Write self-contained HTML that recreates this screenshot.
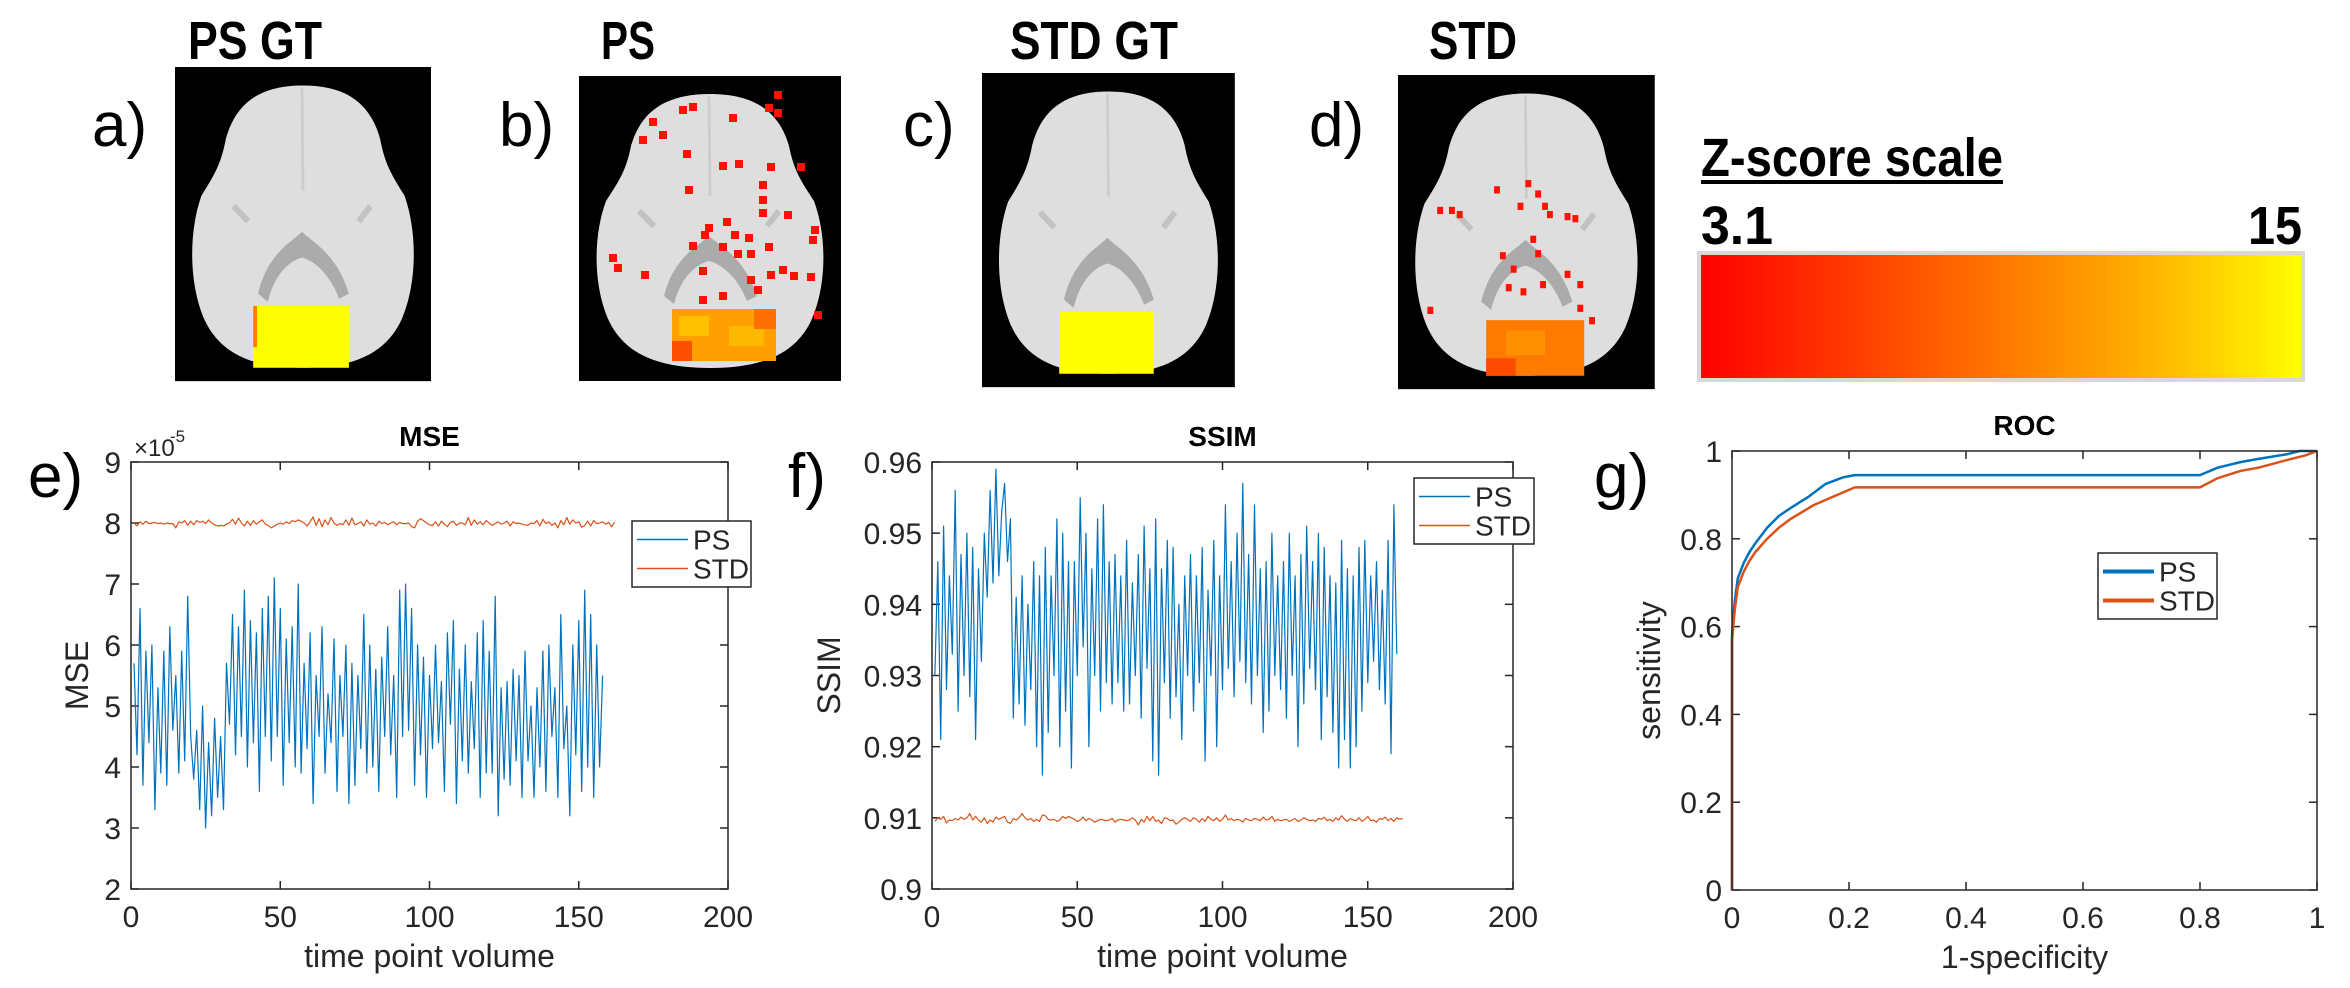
<!DOCTYPE html>
<html><head><meta charset="utf-8"><style>
html,body{margin:0;padding:0;background:#fff;}
svg{display:block;}
text{font-family:"Liberation Sans Narrow","Liberation Sans",sans-serif;}
.lbl{font-family:"Liberation Sans Narrow","Liberation Sans",sans-serif;font-size:62px;fill:#000;}
.hdr{font-family:"Liberation Sans Narrow","Liberation Sans",sans-serif;font-weight:bold;font-size:54px;fill:#000;}
.tick{font-size:30px;fill:#262626;}
.ttl{font-size:28px;font-weight:bold;fill:#000;font-family:"Liberation Sans",sans-serif;}
</style></head><body>
<svg id="fig" width="2350" height="988" viewBox="0 0 2350 988" xmlns="http://www.w3.org/2000/svg">
<defs>
<linearGradient id="zgrad" x1="0" x2="1" y1="0" y2="0">
<stop offset="0" stop-color="#ff0000"/><stop offset="0.25" stop-color="#ff3a00"/><stop offset="0.5" stop-color="#ff7800"/><stop offset="0.75" stop-color="#ffb400"/><stop offset="1" stop-color="#ffff00"/>
</linearGradient>
<g id="brain">
<rect x="0" y="0" width="262" height="305" fill="#000"/>
<path d="M131,18 C175,18 200,35 210,70 C215,95 222,105 235,125 C248,160 248,210 232,245 C215,280 180,292 131,292 C82,292 47,280 30,245 C14,210 14,160 27,125 C40,105 47,95 52,70 C62,35 87,18 131,18 Z" fill="#dedede"/>
<path d="M130,20 L131,120" stroke="#cdcdcd" stroke-width="3"/>
<path d="M85,220 C95,180 120,170 130,160 C140,170 165,180 178,220 L168,225 C158,200 142,188 130,185 C118,188 102,200 95,228 Z" fill="#ababab"/>
<path d="M60,135 L75,150 M200,135 L188,150" stroke="#c2c2c2" stroke-width="6"/>
</g>
</defs>

<text class="lbl" x="92" y="146">a)</text>
<text class="lbl" x="499" y="146">b)</text>
<text class="lbl" x="903" y="146">c)</text>
<text class="lbl" x="1309" y="146">d)</text>
<text class="hdr" x="188" y="59" textLength="134" lengthAdjust="spacingAndGlyphs">PS GT</text>
<text class="hdr" x="601" y="59" textLength="54" lengthAdjust="spacingAndGlyphs">PS</text>
<text class="hdr" x="1010" y="59" textLength="168" lengthAdjust="spacingAndGlyphs">STD GT</text>
<text class="hdr" x="1429" y="59" textLength="88" lengthAdjust="spacingAndGlyphs">STD</text>

<g transform="translate(175,67) scale(0.977,1.03)">
<use href="#brain"/>
<rect x="80" y="232" width="98" height="60" fill="#ffff00"/>
<rect x="80" y="232" width="4" height="40" fill="#ff8000"/>
</g>
<g id="bb" transform="translate(579,76) scale(1,1.0)">
<use href="#brain"/>
<rect x="93" y="233" width="104" height="52" fill="#ffa000"/>
<rect x="100" y="240" width="30" height="20" fill="#ffc000"/>
<rect x="150" y="250" width="35" height="20" fill="#ffb800"/>
<rect x="93" y="265" width="20" height="20" fill="#ff5000"/>
<rect x="175" y="233" width="22" height="20" fill="#ff7000"/>
</g>
<g transform="translate(982,73) scale(0.965,1.03)">
<use href="#brain"/>
<rect x="80" y="232" width="98" height="60" fill="#ffff00"/>
</g>
<g id="bd" transform="translate(1398,75) scale(0.98,1.03)">
<use href="#brain"/>
<rect x="90" y="238" width="100" height="54" fill="#ff7a00"/>
<rect x="110" y="248" width="40" height="24" fill="#ff9000"/>
<rect x="90" y="275" width="30" height="17" fill="#ff4a00"/>
</g>

<text class="hdr" x="1701" y="176" textLength="302" lengthAdjust="spacingAndGlyphs">Z-score scale</text>
<rect x="1701" y="180" width="302" height="4" fill="#000"/>
<text class="hdr" x="1701" y="244" textLength="72" lengthAdjust="spacingAndGlyphs">3.1</text>
<text class="hdr" x="2248" y="244" textLength="54" lengthAdjust="spacingAndGlyphs">15</text>
<rect x="1699" y="253" width="604" height="127" fill="url(#zgrad)" stroke="#d8d8d8" stroke-width="4"/>

<text class="lbl" x="28" y="497">e)</text>
<text class="lbl" x="788" y="497">f)</text>
<text class="lbl" x="1594" y="497">g)</text>
<g id="plots"></g>
</svg>
<script>
const mseTicksX=[0,50,100,150,200];
const mseTicksY=[2,3,4,5,6,7,8,9];
const msePS=[5.7,4.2,6.6,3.7,5.9,4.4,6.0,3.3,5.3,3.9,5.9,3.7,6.3,4.6,5.5,3.9,5.9,4.1,6.8,4.5,3.8,4.6,3.3,5.0,3.0,4.4,3.2,4.8,3.5,4.5,3.3,5.7,4.7,6.5,4.2,6.3,4.5,6.9,4.0,6.4,4.4,6.2,3.6,6.6,4.5,6.8,4.1,7.1,4.5,6.6,3.7,6.1,4.4,6.3,4.0,7.0,3.9,5.7,4.3,6.2,3.4,5.5,4.5,6.3,3.9,5.2,4.4,6.1,3.6,5.5,4.5,6.0,3.4,5.7,3.7,5.5,4.3,6.5,3.9,6.0,4.0,5.6,3.6,5.8,4.5,6.3,4.2,5.5,3.5,6.9,4.5,7.0,4.6,6.6,3.7,6.0,4.2,5.8,3.5,5.5,4.3,6.0,4.4,5.4,3.6,6.2,4.7,6.4,3.4,5.6,4.1,6.0,3.9,5.4,4.3,6.2,3.5,6.4,3.9,5.9,3.9,6.8,3.2,5.3,3.8,5.4,3.7,5.6,4.1,5.5,3.5,5.9,4.1,5.0,3.5,5.3,4.0,5.9,3.6,6.0,4.5,5.3,3.5,6.5,4.3,5.0,3.2,6.0,4.2,6.4,3.6,6.9,4.0,6.5,3.5,6.0,4.0,5.5];
const mseSTD=[8.00,7.95,8.02,7.98,8.03,7.99,8.00,8.01,7.99,8.00,7.98,8.00,7.99,7.99,7.92,8.02,8.00,8.04,7.96,8.03,7.97,8.04,8.01,8.03,7.99,8.05,8.00,7.97,7.95,7.96,7.95,7.98,8.00,8.06,7.98,8.08,8.00,7.95,8.03,7.96,8.04,7.98,8.02,8.05,7.98,7.96,7.92,7.95,7.98,8.00,7.98,8.02,7.99,8.04,8.02,8.05,8.03,8.00,7.95,8.02,8.10,7.96,8.07,7.94,8.05,7.97,8.09,8.00,7.96,7.99,7.97,8.05,7.96,8.08,7.97,7.99,8.02,7.95,8.05,7.98,8.00,7.95,8.03,7.99,8.01,7.97,8.00,8.02,7.97,8.01,7.99,7.99,8.00,7.94,7.92,8.03,8.07,8.04,8.00,7.97,7.96,8.02,7.95,8.03,7.98,7.94,8.01,8.03,7.96,8.00,8.00,7.97,8.09,7.96,8.05,7.98,8.02,7.97,8.04,8.00,7.96,7.99,8.02,7.98,8.00,8.03,7.95,8.02,7.99,8.00,7.98,7.97,7.96,8.00,7.99,8.04,7.95,8.06,7.99,8.02,7.96,8.00,7.92,8.04,7.97,8.09,7.98,8.05,8.00,8.02,7.93,7.96,8.03,7.95,8.04,7.99,8.00,8.02,7.98,8.01,7.94,8.01];
const ssimTicksX=[0,50,100,150,200];
const ssimTicksY=[0.9,0.91,0.92,0.93,0.94,0.95,0.96];
const ssimPS=[0.930,0.946,0.921,0.951,0.928,0.944,0.933,0.956,0.925,0.947,0.930,0.950,0.927,0.948,0.921,0.945,0.932,0.950,0.941,0.956,0.943,0.959,0.944,0.953,0.957,0.946,0.952,0.924,0.941,0.926,0.944,0.923,0.940,0.928,0.946,0.920,0.944,0.916,0.948,0.922,0.944,0.930,0.952,0.920,0.950,0.925,0.946,0.917,0.946,0.930,0.955,0.934,0.950,0.920,0.945,0.930,0.952,0.925,0.954,0.929,0.946,0.926,0.947,0.929,0.944,0.925,0.949,0.926,0.943,0.930,0.947,0.924,0.951,0.931,0.945,0.918,0.952,0.916,0.945,0.929,0.949,0.924,0.948,0.927,0.940,0.921,0.944,0.930,0.947,0.925,0.944,0.929,0.948,0.918,0.942,0.930,0.949,0.920,0.944,0.928,0.954,0.931,0.946,0.927,0.950,0.932,0.957,0.929,0.947,0.926,0.954,0.930,0.945,0.922,0.946,0.925,0.950,0.930,0.944,0.928,0.946,0.924,0.950,0.930,0.944,0.920,0.947,0.926,0.951,0.931,0.946,0.928,0.950,0.921,0.948,0.927,0.944,0.922,0.943,0.917,0.949,0.921,0.945,0.917,0.944,0.920,0.948,0.925,0.949,0.929,0.944,0.932,0.946,0.928,0.942,0.926,0.949,0.919,0.954,0.933];
const ssimSTD=[0.9095,0.9100,0.9098,0.9102,0.9093,0.9097,0.9096,0.9099,0.9097,0.9101,0.9098,0.9100,0.9106,0.9097,0.9102,0.9097,0.9094,0.9100,0.9092,0.9097,0.9094,0.9101,0.9098,0.9100,0.9102,0.9094,0.9092,0.9099,0.9097,0.9100,0.9106,0.9100,0.9097,0.9099,0.9095,0.9098,0.9095,0.9104,0.9103,0.9098,0.9097,0.9098,0.9095,0.9097,0.9102,0.9099,0.9102,0.9100,0.9098,0.9095,0.9097,0.9101,0.9096,0.9099,0.9097,0.9094,0.9096,0.9098,0.9097,0.9096,0.9097,0.9099,0.9094,0.9097,0.9098,0.9097,0.9096,0.9097,0.9100,0.9097,0.9090,0.9098,0.9094,0.9102,0.9096,0.9102,0.9095,0.9097,0.9092,0.9100,0.9099,0.9096,0.9097,0.9091,0.9094,0.9098,0.9100,0.9098,0.9095,0.9100,0.9098,0.9094,0.9099,0.9095,0.9102,0.9098,0.9096,0.9100,0.9095,0.9098,0.9104,0.9097,0.9099,0.9096,0.9098,0.9097,0.9094,0.9099,0.9097,0.9096,0.9099,0.9098,0.9096,0.9101,0.9097,0.9098,0.9102,0.9095,0.9098,0.9096,0.9097,0.9098,0.9095,0.9097,0.9099,0.9095,0.9097,0.9100,0.9098,0.9096,0.9097,0.9095,0.9099,0.9098,0.9101,0.9096,0.9098,0.9095,0.9100,0.9097,0.9103,0.9098,0.9095,0.9099,0.9097,0.9096,0.9100,0.9095,0.9098,0.9102,0.9096,0.9097,0.9094,0.9099,0.9098,0.9101,0.9096,0.9099,0.9095,0.9100,0.9098,0.9099];
const rocTicks=[0,0.2,0.4,0.6,0.8,1];
const rocPSx=[0,0,0.002,0.005,0.01,0.02,0.03,0.04,0.06,0.08,0.1,0.13,0.16,0.19,0.21,0.8,0.83,0.87,0.9,0.95,0.97,1];
const rocPSy=[0,0.58,0.62,0.66,0.71,0.745,0.77,0.79,0.825,0.852,0.87,0.895,0.925,0.94,0.945,0.945,0.962,0.975,0.982,0.993,1,1];
const rocSTDx=[0,0,0.002,0.005,0.01,0.02,0.03,0.04,0.06,0.08,0.1,0.14,0.18,0.21,0.8,0.83,0.87,0.9,0.95,0.98,1];
const rocSTDy=[0,0.565,0.6,0.64,0.69,0.725,0.75,0.77,0.8,0.825,0.845,0.877,0.9,0.917,0.917,0.938,0.955,0.962,0.98,0.99,1];

const NS="http://www.w3.org/2000/svg";
const root=document.getElementById('plots');
function mk(tag,attrs,parent){const e=document.createElementNS(NS,tag);for(const k in attrs)e.setAttribute(k,attrs[k]);(parent||root).appendChild(e);return e;}

function axes(cfg){
  const g=mk('g',{});
  
  
  const sx=v=>cfg.L+(v-cfg.x0)/(cfg.x1-cfg.x0)*(cfg.R-cfg.L);
  const sy=v=>cfg.B-(v-cfg.y0)/(cfg.y1-cfg.y0)*(cfg.B-cfg.T);
  cfg.xt.forEach(v=>{
    const x=sx(v);
    mk('line',{x1:x,x2:x,y1:cfg.B,y2:cfg.B-8,stroke:'#262626','stroke-width':1.5},g);
    mk('line',{x1:x,x2:x,y1:cfg.T,y2:cfg.T+8,stroke:'#262626','stroke-width':1.5},g);
    const t=mk('text',{x:x,y:cfg.B+38,'text-anchor':'middle',class:'tick'},g);
    t.textContent=cfg.xf(v);
    
    
  });
  cfg.yt.forEach(v=>{
    const y=sy(v);
    mk('line',{x1:cfg.L,x2:cfg.L+8,y1:y,y2:y,stroke:'#262626','stroke-width':1.5},g);
    mk('line',{x1:cfg.R,x2:cfg.R-8,y1:y,y2:y,stroke:'#262626','stroke-width':1.5},g);
    const t=mk('text',{x:cfg.L-10,y:y+11,'text-anchor':'end',class:'tick'},g);
    t.textContent=cfg.yf(v);
    
    
  });
  cfg.series.forEach(s=>{
    const pts=s.y.map((v,i)=>sx(s.x?s.x[i]:i+1).toFixed(1)+','+sy(v).toFixed(1)).join(' ');
    const p=mk('polyline',{points:pts,fill:'none',stroke:s.c,'stroke-width':s.w,'stroke-linejoin':'round'},g);
    
    
  });
  const box=mk('rect',{x:cfg.L,y:cfg.T,width:cfg.R-cfg.L,height:cfg.B-cfg.T,fill:'none',stroke:'#262626','stroke-width':1.5},g);
  
  
  const tt=mk('text',{x:(cfg.L+cfg.R)/2,y:cfg.T-16,'text-anchor':'middle',class:'ttl'},g);
  tt.textContent=cfg.title;
  
  
  const xl=mk('text',{x:(cfg.L+cfg.R)/2,y:cfg.B+78,'text-anchor':'middle',class:'tick',style:'font-size:32px'},g);
  xl.textContent=cfg.xlab;
  
  
  const yl=mk('text',{x:0,y:0,'text-anchor':'middle',class:'tick',style:'font-size:32px',transform:`translate(${cfg.ylx},${(cfg.T+cfg.B)/2}) rotate(-90)`},g);
  yl.textContent=cfg.ylab;
  
  
  const lg=mk('g',{},g);
  
  
  const Lg=cfg.leg;
  mk('rect',{x:Lg.x,y:Lg.y,width:Lg.w,height:Lg.h,fill:'#fff',stroke:'#262626','stroke-width':1.5},lg);
  cfg.series.forEach((s,i)=>{
    const yy=Lg.y+Lg.h*(i===0?0.28:0.72);
    mk('line',{x1:Lg.x+5,x2:Lg.x+56,y1:yy,y2:yy,stroke:s.c,'stroke-width':Lg.lw},lg);
    const t=mk('text',{x:Lg.x+61,y:yy+10,class:'tick',style:'font-size:28px'},lg);
    t.textContent=s.label;
    
    
  });
  return g;
}
const BLUE='#0072bd',RED='#d95319';
axes({name:'mse-chart',L:131,R:728,T:462,B:889,x0:0,x1:200,y0:2,y1:9,xt:mseTicksX,yt:mseTicksY,xf:v=>String(v),yf:v=>String(v),
  title:'MSE',xlab:'time point volume',ylab:'MSE',ylx:88,leg:{x:632,y:521,w:119,h:66,lw:1.5},
  series:[{name:'mse-ps-line',label:'PS',y:msePS,c:BLUE,w:1.2},{name:'mse-std-line',label:'STD',y:mseSTD,c:RED,w:1.2}]});
const ex=mk('text',{x:134,y:456,class:'tick',style:'font-size:24px'});
ex.textContent='\u00d710';


const ex2=mk('text',{x:170,y:442,class:'tick',style:'font-size:17px'});
ex2.textContent='-5';


axes({name:'ssim-chart',L:932,R:1513,T:462,B:889,x0:0,x1:200,y0:0.9,y1:0.96,xt:ssimTicksX,yt:ssimTicksY,xf:v=>String(v),yf:v=>String(+v.toFixed(2)),
  title:'SSIM',xlab:'time point volume',ylab:'SSIM',ylx:840,leg:{x:1414,y:478,w:120,h:66,lw:1.5},
  series:[{name:'ssim-ps-line',label:'PS',y:ssimPS,c:BLUE,w:1.2},{name:'ssim-std-line',label:'STD',y:ssimSTD,c:RED,w:1.2}]});
axes({name:'roc-chart',L:1732,R:2317,T:451,B:890,x0:0,x1:1,y0:0,y1:1,xt:rocTicks,yt:rocTicks,xf:v=>String(+v.toFixed(1)),yf:v=>String(+v.toFixed(1)),
  title:'ROC',xlab:'1-specificity',ylab:'sensitivity',ylx:1660,leg:{x:2098,y:553,w:119,h:66,lw:4},
  series:[{name:'roc-ps-curve',label:'PS',x:rocPSx,y:rocPSy,c:BLUE,w:2.5},{name:'roc-std-curve',label:'STD',x:rocSTDx,y:rocSTDy,c:RED,w:2.5}]});

const dotsB=[[100,30],[110,27],[186,28],[195,33],[195,15],[150,38],[70,42],[80,55],[60,60],[104,74],[140,86],[156,84],[188,87],[218,87],[180,105],[106,110],[180,120],[180,133],[205,135],[126,148],[144,142],[122,155],[152,155],[166,158],[232,150],[230,160],[110,166],[140,167],[186,167],[30,178],[35,188],[62,195],[120,191],[188,195],[155,174],[168,174],[200,190],[211,196],[228,197],[140,216],[120,220],[168,200],[175,210],[235,235]];
const gb=document.getElementById('bb');
dotsB.forEach(d=>{
  const r=mk('rect',{x:d[0],y:d[1],width:8,height:8,fill:'#ff1000'},gb);
  
  
});
const dotsD=[[98,108],[130,102],[140,112],[122,124],[147,124],[152,132],[170,134],[178,136],[40,128],[52,128],[60,132],[135,156],[140,170],[104,172],[145,200],[115,185],[110,203],[125,207],[170,190],[183,200],[183,223],[30,225],[195,235]];
const gd=document.getElementById('bd');
dotsD.forEach(d=>{
  const r=mk('rect',{x:d[0],y:d[1],width:6,height:7,fill:'#ff1000'},gd);
  
  
});
</script>
</body></html>
